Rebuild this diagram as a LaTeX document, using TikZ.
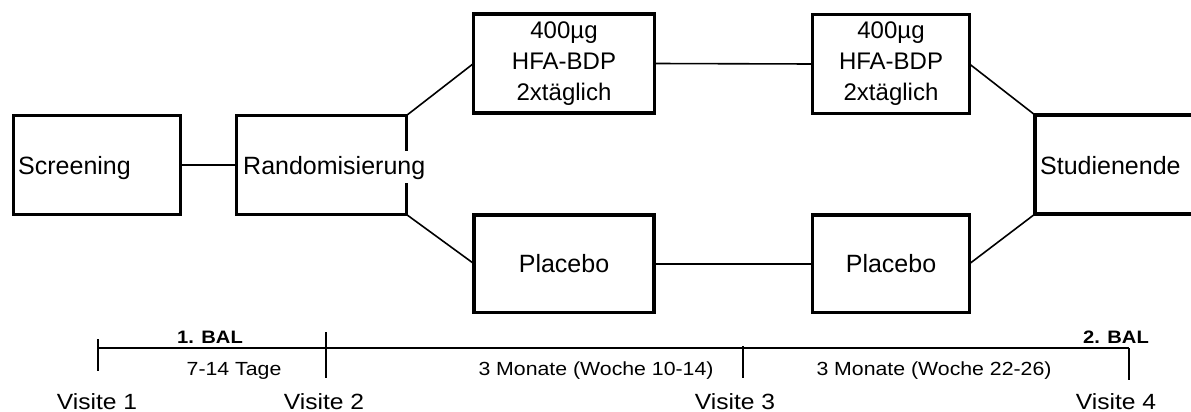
\documentclass[tikz,border=0pt]{standalone}
\usepackage{fontspec}
\setmainfont{Liberation Sans}
\newfontfamily\tlfont[FakeStretch=1.12]{Liberation Sans}
\begin{document}
\begin{tikzpicture}[x=1pt,y=-1pt,
  box/.style={draw, line width=3.6pt, rectangle, outer sep=0pt, inner sep=0pt, align=center},
  link/.style={line width=1.6pt},
  axis/.style={line width=2pt},
  big/.style={font=\fontsize{25}{30}\selectfont, inner sep=0pt},
  mid/.style={font=\fontsize{24}{31}\selectfont},
  tl/.style={font=\tlfont\fontsize{19}{22}\selectfont, inner sep=0pt, anchor=base},
  tlbold/.style={font=\tlfont\bfseries\fontsize{18}{22}\selectfont, inner sep=0pt, anchor=base},
  visit/.style={font=\tlfont\fontsize{22}{26}\selectfont, inner sep=0pt, anchor=base}]
\useasboundingbox (0,0) rectangle (1191,412);
\clip (0,0) rectangle (1191,412);

% study arms
\node[box, minimum width=167pt, minimum height=99pt] (screen) at (97,165) {};
\node[box, minimum width=170pt, minimum height=99pt] (rand) at (321.5,165) {};
\node[box, mid, minimum width=181pt, minimum height=98.4pt] (hfa1) at (564,63.5) {400µg\\HFA-BDP\\2xtäglich};
\node[box, mid, minimum width=157pt, minimum height=99pt] (hfa2) at (891,64) {400µg\\HFA-BDP\\2xtäglich};
\node[box, big, minimum width=180pt, minimum height=97.5pt] (pla1) at (564,263.75) {Placebo};
\node[box, big, minimum width=157pt, minimum height=97.5pt] (pla2) at (891,263.75) {Placebo};
\node[box, minimum width=200pt, minimum height=99pt] (end) at (1135,164.5) {};

% box captions
\node[big, anchor=base west] (screentxt) at (18,174) {Screening};
\node[big, anchor=base west, fill=white, text height=20pt, text depth=6pt, inner ysep=3pt, inner xsep=1pt] (randtxt) at (242,174) {Randomisierung};
\node[big, anchor=base west] (endtxt) at (1040,174) {Studienende};

% connectors
\draw[link] (screen.east) -- (rand.west);
\draw[link] (rand.north east) -- (hfa1.west);
\draw[link] (rand.south east) -- (pla1.west);
\draw[link] (hfa1.east) -- (hfa2.west);
\draw[link] (pla1.east) -- (pla2.west);
\draw[link] (hfa2.east) -- (end.north west);
\draw[link] (pla2.east) -- (end.south west);

% time line
\coordinate (v1) at (98,348);
\coordinate (v2) at (326,348);
\coordinate (v3) at (743,348);
\coordinate (v4) at (1129,348);
\draw[axis] (v1) -- (v4);
\draw[axis] (v1) ++(0,-9) -- ++(0,32);
\draw[axis] (v2) ++(0,-16) -- ++(0,46);
\draw[axis] (v3) ++(0,-2) -- ++(0,32);
\draw[axis] (v4) -- ++(0,32);

\node[tlbold] (bal1) at (210,343) {1. BAL};
\node[tlbold] (bal2) at (1116,343) {2. BAL};
\node[tl] (p1) at (234,375) {7-14 Tage};
\node[tl] (p2) at (596,375) {3 Monate (Woche 10-14)};
\node[tl] (p3) at (934,375) {3 Monate (Woche 22-26)};

\node[visit] (vis1) at (97,409) {Visite 1};
\node[visit] (vis2) at (324,409) {Visite 2};
\node[visit] (vis3) at (735,409) {Visite 3};
\node[visit] (vis4) at (1116,409) {Visite 4};
\end{tikzpicture}
\end{document}
